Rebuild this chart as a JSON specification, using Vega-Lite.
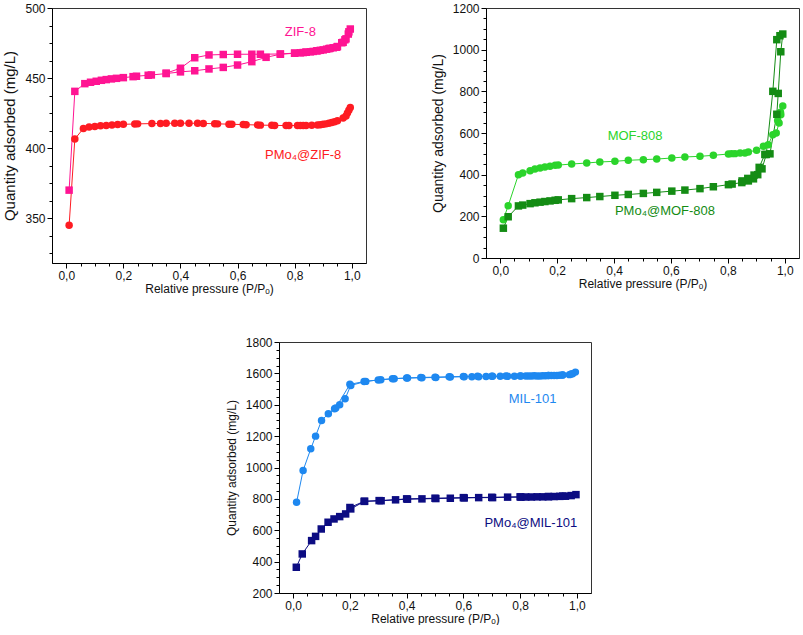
{
"$schema": "https://vega.github.io/schema/vega-lite/v6.json",
"padding": {"left": 2, "top": 1, "right": 0, "bottom": 0},
"background": "white",
"config": {
  "font": "Liberation Sans",
  "view": {"stroke": "#333", "strokeWidth": 1},
  "axis": {"grid": false, "domainColor": "#000", "tickColor": "#000", "labelColor": "#111", "titleColor": "#111", "labelFont": "Liberation Sans", "titleFont": "Liberation Sans", "labelFontSize": 12, "titleFontSize": 12, "titleFontWeight": "normal", "labelFlush": false, "labelOverlap": false}
},
"datasets": {
"pts": [
{"p":1,"s":"ZIF-8","o":1,"x":0.01,"y":370},{"p":1,"s":"ZIF-8","o":2,"x":0.03,"y":440.5},{"p":1,"s":"ZIF-8","o":3,"x":0.065,"y":446},{"p":1,"s":"ZIF-8","o":4,"x":0.085,"y":447},{"p":1,"s":"ZIF-8","o":5,"x":0.105,"y":447.7},{"p":1,"s":"ZIF-8","o":6,"x":0.123,"y":448.4},{"p":1,"s":"ZIF-8","o":7,"x":0.14,"y":448.9},{"p":1,"s":"ZIF-8","o":8,"x":0.158,"y":449.4},{"p":1,"s":"ZIF-8","o":9,"x":0.176,"y":449.8},{"p":1,"s":"ZIF-8","o":10,"x":0.2,"y":450.3},{"p":1,"s":"ZIF-8","o":11,"x":0.234,"y":451},{"p":1,"s":"ZIF-8","o":12,"x":0.246,"y":451.3},{"p":1,"s":"ZIF-8","o":13,"x":0.287,"y":452},{"p":1,"s":"ZIF-8","o":14,"x":0.298,"y":452.2},{"p":1,"s":"ZIF-8","o":15,"x":0.35,"y":453.2},{"p":1,"s":"ZIF-8","o":16,"x":0.4,"y":454.4},{"p":1,"s":"ZIF-8","o":17,"x":0.45,"y":455.2},{"p":1,"s":"ZIF-8","o":18,"x":0.5,"y":456.5},{"p":1,"s":"ZIF-8","o":19,"x":0.55,"y":457.6},{"p":1,"s":"ZIF-8","o":20,"x":0.6,"y":459.3},{"p":1,"s":"ZIF-8","o":21,"x":0.65,"y":461.7},{"p":1,"s":"ZIF-8","o":22,"x":0.7,"y":464.8},{"p":1,"s":"ZIF-8","o":23,"x":0.75,"y":467},{"p":1,"s":"ZIF-8","o":24,"x":0.8,"y":467.7},{"p":1,"s":"ZIF-8","o":25,"x":0.82,"y":468},{"p":1,"s":"ZIF-8","o":26,"x":0.83,"y":468.2},{"p":1,"s":"ZIF-8","o":27,"x":0.84,"y":468.4},{"p":1,"s":"ZIF-8","o":28,"x":0.855,"y":468.7},{"p":1,"s":"ZIF-8","o":29,"x":0.865,"y":469},{"p":1,"s":"ZIF-8","o":30,"x":0.877,"y":469.4},{"p":1,"s":"ZIF-8","o":31,"x":0.89,"y":469.8},{"p":1,"s":"ZIF-8","o":32,"x":0.9,"y":470.1},{"p":1,"s":"ZIF-8","o":33,"x":0.912,"y":470.6},{"p":1,"s":"ZIF-8","o":34,"x":0.924,"y":471.2},{"p":1,"s":"ZIF-8","o":35,"x":0.935,"y":471.6},{"p":1,"s":"ZIF-8","o":36,"x":0.947,"y":472},{"p":1,"s":"ZIF-8","o":37,"x":0.965,"y":475.2},{"p":1,"s":"ZIF-8","o":38,"x":0.976,"y":477.3},{"p":1,"s":"ZIF-8","o":39,"x":0.988,"y":481.4},{"p":1,"s":"ZIF-8","o":40,"x":0.995,"y":485},
{"p":1,"s":"ZIF-8","o":41,"x":0.99,"y":483},{"p":1,"s":"ZIF-8","o":42,"x":0.98,"y":478},{"p":1,"s":"ZIF-8","o":43,"x":0.97,"y":475.5},{"p":1,"s":"ZIF-8","o":44,"x":0.95,"y":472.5},{"p":1,"s":"ZIF-8","o":45,"x":0.92,"y":471},{"p":1,"s":"ZIF-8","o":46,"x":0.88,"y":469.5},{"p":1,"s":"ZIF-8","o":47,"x":0.84,"y":468.5},{"p":1,"s":"ZIF-8","o":48,"x":0.8,"y":467.8},{"p":1,"s":"ZIF-8","o":49,"x":0.75,"y":467.2},{"p":1,"s":"ZIF-8","o":50,"x":0.68,"y":467},{"p":1,"s":"ZIF-8","o":51,"x":0.65,"y":467},{"p":1,"s":"ZIF-8","o":52,"x":0.6,"y":467},{"p":1,"s":"ZIF-8","o":53,"x":0.55,"y":466.8},{"p":1,"s":"ZIF-8","o":54,"x":0.5,"y":466.5},{"p":1,"s":"ZIF-8","o":55,"x":0.45,"y":464.5},{"p":1,"s":"ZIF-8","o":56,"x":0.4,"y":457},{"p":1,"s":"ZIF-8","o":57,"x":0.35,"y":453.5},
{"p":1,"s":"PMo4@ZIF-8","o":1,"x":0.01,"y":345},{"p":1,"s":"PMo4@ZIF-8","o":2,"x":0.03,"y":406.5},{"p":1,"s":"PMo4@ZIF-8","o":3,"x":0.06,"y":414},{"p":1,"s":"PMo4@ZIF-8","o":4,"x":0.08,"y":415},{"p":1,"s":"PMo4@ZIF-8","o":5,"x":0.1,"y":415.5},{"p":1,"s":"PMo4@ZIF-8","o":6,"x":0.12,"y":416},{"p":1,"s":"PMo4@ZIF-8","o":7,"x":0.14,"y":416.2},{"p":1,"s":"PMo4@ZIF-8","o":8,"x":0.16,"y":416.5},{"p":1,"s":"PMo4@ZIF-8","o":9,"x":0.18,"y":416.8},{"p":1,"s":"PMo4@ZIF-8","o":10,"x":0.2,"y":417},{"p":1,"s":"PMo4@ZIF-8","o":11,"x":0.24,"y":417.2},{"p":1,"s":"PMo4@ZIF-8","o":12,"x":0.25,"y":417.3},{"p":1,"s":"PMo4@ZIF-8","o":13,"x":0.3,"y":417.5},{"p":1,"s":"PMo4@ZIF-8","o":14,"x":0.33,"y":417.6},{"p":1,"s":"PMo4@ZIF-8","o":15,"x":0.35,"y":417.7},{"p":1,"s":"PMo4@ZIF-8","o":16,"x":0.38,"y":417.8},{"p":1,"s":"PMo4@ZIF-8","o":17,"x":0.4,"y":417.8},{"p":1,"s":"PMo4@ZIF-8","o":18,"x":0.43,"y":417.8},{"p":1,"s":"PMo4@ZIF-8","o":19,"x":0.46,"y":417.7},{"p":1,"s":"PMo4@ZIF-8","o":20,"x":0.48,"y":417.6},{"p":1,"s":"PMo4@ZIF-8","o":21,"x":0.52,"y":417.4},{"p":1,"s":"PMo4@ZIF-8","o":22,"x":0.53,"y":417.3},{"p":1,"s":"PMo4@ZIF-8","o":23,"x":0.57,"y":417.1},{"p":1,"s":"PMo4@ZIF-8","o":24,"x":0.58,"y":417},{"p":1,"s":"PMo4@ZIF-8","o":25,"x":0.62,"y":416.8},{"p":1,"s":"PMo4@ZIF-8","o":26,"x":0.63,"y":416.7},{"p":1,"s":"PMo4@ZIF-8","o":27,"x":0.67,"y":416.5},{"p":1,"s":"PMo4@ZIF-8","o":28,"x":0.68,"y":416.4},{"p":1,"s":"PMo4@ZIF-8","o":29,"x":0.72,"y":416.3},{"p":1,"s":"PMo4@ZIF-8","o":30,"x":0.73,"y":416.2},{"p":1,"s":"PMo4@ZIF-8","o":31,"x":0.77,"y":416.1},{"p":1,"s":"PMo4@ZIF-8","o":32,"x":0.78,"y":416.1},{"p":1,"s":"PMo4@ZIF-8","o":33,"x":0.81,"y":416.1},{"p":1,"s":"PMo4@ZIF-8","o":34,"x":0.82,"y":416.1},{"p":1,"s":"PMo4@ZIF-8","o":35,"x":0.83,"y":416.1},{"p":1,"s":"PMo4@ZIF-8","o":36,"x":0.84,"y":416.2},{"p":1,"s":"PMo4@ZIF-8","o":37,"x":0.86,"y":416.3},{"p":1,"s":"PMo4@ZIF-8","o":38,"x":0.88,"y":416.5},{"p":1,"s":"PMo4@ZIF-8","o":39,"x":0.89,"y":416.7},{"p":1,"s":"PMo4@ZIF-8","o":40,"x":0.9,"y":417},{"p":1,"s":"PMo4@ZIF-8","o":41,"x":0.91,"y":417.3},{"p":1,"s":"PMo4@ZIF-8","o":42,"x":0.92,"y":417.7},{"p":1,"s":"PMo4@ZIF-8","o":43,"x":0.93,"y":418.2},{"p":1,"s":"PMo4@ZIF-8","o":44,"x":0.94,"y":418.8},{"p":1,"s":"PMo4@ZIF-8","o":45,"x":0.95,"y":419.5},{"p":1,"s":"PMo4@ZIF-8","o":46,"x":0.97,"y":421.5},{"p":1,"s":"PMo4@ZIF-8","o":47,"x":0.98,"y":423},{"p":1,"s":"PMo4@ZIF-8","o":48,"x":0.985,"y":425},{"p":1,"s":"PMo4@ZIF-8","o":49,"x":0.99,"y":427},{"p":1,"s":"PMo4@ZIF-8","o":50,"x":0.995,"y":429},
{"p":2,"s":"MOF-808","o":1,"x":0.011,"y":184},{"p":2,"s":"MOF-808","o":2,"x":0.028,"y":251},{"p":2,"s":"MOF-808","o":3,"x":0.064,"y":400},{"p":2,"s":"MOF-808","o":4,"x":0.079,"y":408},{"p":2,"s":"MOF-808","o":5,"x":0.105,"y":419},{"p":2,"s":"MOF-808","o":6,"x":0.122,"y":427},{"p":2,"s":"MOF-808","o":7,"x":0.14,"y":432},{"p":2,"s":"MOF-808","o":8,"x":0.157,"y":437},{"p":2,"s":"MOF-808","o":9,"x":0.175,"y":440},{"p":2,"s":"MOF-808","o":10,"x":0.193,"y":445},{"p":2,"s":"MOF-808","o":11,"x":0.204,"y":446},{"p":2,"s":"MOF-808","o":12,"x":0.251,"y":451},{"p":2,"s":"MOF-808","o":13,"x":0.304,"y":456},{"p":2,"s":"MOF-808","o":14,"x":0.35,"y":461},{"p":2,"s":"MOF-808","o":15,"x":0.403,"y":464},{"p":2,"s":"MOF-808","o":16,"x":0.45,"y":469},{"p":2,"s":"MOF-808","o":17,"x":0.503,"y":472},{"p":2,"s":"MOF-808","o":18,"x":0.55,"y":475},{"p":2,"s":"MOF-808","o":19,"x":0.603,"y":480},{"p":2,"s":"MOF-808","o":20,"x":0.649,"y":485},{"p":2,"s":"MOF-808","o":21,"x":0.702,"y":488},{"p":2,"s":"MOF-808","o":22,"x":0.749,"y":493},{"p":2,"s":"MOF-808","o":23,"x":0.802,"y":499},{"p":2,"s":"MOF-808","o":24,"x":0.813,"y":501},{"p":2,"s":"MOF-808","o":25,"x":0.825,"y":501},{"p":2,"s":"MOF-808","o":26,"x":0.843,"y":504},{"p":2,"s":"MOF-808","o":27,"x":0.86,"y":504},{"p":2,"s":"MOF-808","o":28,"x":0.872,"y":509},{"p":2,"s":"MOF-808","o":29,"x":0.901,"y":517},{"p":2,"s":"MOF-808","o":30,"x":0.925,"y":536},{"p":2,"s":"MOF-808","o":31,"x":0.942,"y":544},{"p":2,"s":"MOF-808","o":32,"x":0.958,"y":592},{"p":2,"s":"MOF-808","o":33,"x":0.97,"y":600},{"p":2,"s":"MOF-808","o":34,"x":0.98,"y":648},{"p":2,"s":"MOF-808","o":35,"x":0.986,"y":688},{"p":2,"s":"MOF-808","o":36,"x":0.993,"y":730},{"p":2,"s":"MOF-808","o":37,"x":0.985,"y":700},{"p":2,"s":"MOF-808","o":38,"x":0.975,"y":660},
{"p":2,"s":"PMo4@MOF-808","o":1,"x":0.011,"y":143},{"p":2,"s":"PMo4@MOF-808","o":2,"x":0.028,"y":198},{"p":2,"s":"PMo4@MOF-808","o":3,"x":0.064,"y":250},{"p":2,"s":"PMo4@MOF-808","o":4,"x":0.079,"y":254},{"p":2,"s":"PMo4@MOF-808","o":5,"x":0.105,"y":261},{"p":2,"s":"PMo4@MOF-808","o":6,"x":0.122,"y":265},{"p":2,"s":"PMo4@MOF-808","o":7,"x":0.14,"y":268},{"p":2,"s":"PMo4@MOF-808","o":8,"x":0.157,"y":271},{"p":2,"s":"PMo4@MOF-808","o":9,"x":0.175,"y":274},{"p":2,"s":"PMo4@MOF-808","o":10,"x":0.193,"y":277},{"p":2,"s":"PMo4@MOF-808","o":11,"x":0.204,"y":279},{"p":2,"s":"PMo4@MOF-808","o":12,"x":0.251,"y":285},{"p":2,"s":"PMo4@MOF-808","o":13,"x":0.304,"y":290},{"p":2,"s":"PMo4@MOF-808","o":14,"x":0.35,"y":295},{"p":2,"s":"PMo4@MOF-808","o":15,"x":0.403,"y":301},{"p":2,"s":"PMo4@MOF-808","o":16,"x":0.45,"y":305},{"p":2,"s":"PMo4@MOF-808","o":17,"x":0.503,"y":310},{"p":2,"s":"PMo4@MOF-808","o":18,"x":0.55,"y":315},{"p":2,"s":"PMo4@MOF-808","o":19,"x":0.603,"y":321},{"p":2,"s":"PMo4@MOF-808","o":20,"x":0.649,"y":326},{"p":2,"s":"PMo4@MOF-808","o":21,"x":0.702,"y":333},{"p":2,"s":"PMo4@MOF-808","o":22,"x":0.749,"y":342},{"p":2,"s":"PMo4@MOF-808","o":23,"x":0.802,"y":352},{"p":2,"s":"PMo4@MOF-808","o":24,"x":0.815,"y":355},{"p":2,"s":"PMo4@MOF-808","o":25,"x":0.849,"y":362},{"p":2,"s":"PMo4@MOF-808","o":26,"x":0.872,"y":370},{"p":2,"s":"PMo4@MOF-808","o":27,"x":0.89,"y":380},{"p":2,"s":"PMo4@MOF-808","o":28,"x":0.905,"y":400},{"p":2,"s":"PMo4@MOF-808","o":29,"x":0.92,"y":428},{"p":2,"s":"PMo4@MOF-808","o":30,"x":0.935,"y":497},{"p":2,"s":"PMo4@MOF-808","o":31,"x":0.958,"y":800},{"p":2,"s":"PMo4@MOF-808","o":32,"x":0.972,"y":1048},{"p":2,"s":"PMo4@MOF-808","o":33,"x":0.983,"y":1067},{"p":2,"s":"PMo4@MOF-808","o":34,"x":0.993,"y":1075},{"p":2,"s":"PMo4@MOF-808","o":35,"x":0.986,"y":990},{"p":2,"s":"PMo4@MOF-808","o":36,"x":0.977,"y":790},{"p":2,"s":"PMo4@MOF-808","o":37,"x":0.972,"y":690},{"p":2,"s":"PMo4@MOF-808","o":38,"x":0.948,"y":500},{"p":2,"s":"PMo4@MOF-808","o":39,"x":0.93,"y":497},{"p":2,"s":"PMo4@MOF-808","o":40,"x":0.91,"y":435},{"p":2,"s":"PMo4@MOF-808","o":41,"x":0.892,"y":398},{"p":2,"s":"PMo4@MOF-808","o":42,"x":0.87,"y":382},{"p":2,"s":"PMo4@MOF-808","o":43,"x":0.85,"y":370},
{"p":3,"s":"MIL-101","o":1,"x":0.012,"y":778},{"p":3,"s":"MIL-101","o":2,"x":0.035,"y":981},{"p":3,"s":"MIL-101","o":3,"x":0.062,"y":1119},{"p":3,"s":"MIL-101","o":4,"x":0.079,"y":1200},{"p":3,"s":"MIL-101","o":5,"x":0.1,"y":1300},{"p":3,"s":"MIL-101","o":6,"x":0.124,"y":1342},{"p":3,"s":"MIL-101","o":7,"x":0.146,"y":1374},{"p":3,"s":"MIL-101","o":8,"x":0.164,"y":1400},{"p":3,"s":"MIL-101","o":9,"x":0.183,"y":1438},{"p":3,"s":"MIL-101","o":10,"x":0.203,"y":1523},{"p":3,"s":"MIL-101","o":11,"x":0.256,"y":1549},{"p":3,"s":"MIL-101","o":12,"x":0.309,"y":1560},{"p":3,"s":"MIL-101","o":13,"x":0.356,"y":1566},{"p":3,"s":"MIL-101","o":14,"x":0.403,"y":1570},{"p":3,"s":"MIL-101","o":15,"x":0.454,"y":1572},{"p":3,"s":"MIL-101","o":16,"x":0.503,"y":1574},{"p":3,"s":"MIL-101","o":17,"x":0.554,"y":1577},{"p":3,"s":"MIL-101","o":18,"x":0.603,"y":1579},{"p":3,"s":"MIL-101","o":19,"x":0.63,"y":1579},{"p":3,"s":"MIL-101","o":20,"x":0.654,"y":1579},{"p":3,"s":"MIL-101","o":21,"x":0.68,"y":1580},{"p":3,"s":"MIL-101","o":22,"x":0.703,"y":1581},{"p":3,"s":"MIL-101","o":23,"x":0.73,"y":1581},{"p":3,"s":"MIL-101","o":24,"x":0.756,"y":1581},{"p":3,"s":"MIL-101","o":25,"x":0.78,"y":1582},{"p":3,"s":"MIL-101","o":26,"x":0.803,"y":1583},{"p":3,"s":"MIL-101","o":27,"x":0.82,"y":1583},{"p":3,"s":"MIL-101","o":28,"x":0.83,"y":1583},{"p":3,"s":"MIL-101","o":29,"x":0.84,"y":1583},{"p":3,"s":"MIL-101","o":30,"x":0.86,"y":1584},{"p":3,"s":"MIL-101","o":31,"x":0.87,"y":1584},{"p":3,"s":"MIL-101","o":32,"x":0.88,"y":1585},{"p":3,"s":"MIL-101","o":33,"x":0.89,"y":1585},{"p":3,"s":"MIL-101","o":34,"x":0.9,"y":1586},{"p":3,"s":"MIL-101","o":35,"x":0.91,"y":1586},{"p":3,"s":"MIL-101","o":36,"x":0.92,"y":1587},{"p":3,"s":"MIL-101","o":37,"x":0.93,"y":1587},{"p":3,"s":"MIL-101","o":38,"x":0.94,"y":1588},{"p":3,"s":"MIL-101","o":39,"x":0.95,"y":1589},{"p":3,"s":"MIL-101","o":40,"x":0.974,"y":1592},{"p":3,"s":"MIL-101","o":41,"x":0.985,"y":1598},{"p":3,"s":"MIL-101","o":42,"x":0.995,"y":1608},{"p":3,"s":"MIL-101","o":43,"x":0.98,"y":1596},{"p":3,"s":"MIL-101","o":44,"x":0.95,"y":1590},{"p":3,"s":"MIL-101","o":45,"x":0.9,"y":1587},{"p":3,"s":"MIL-101","o":46,"x":0.85,"y":1585},{"p":3,"s":"MIL-101","o":47,"x":0.8,"y":1584},{"p":3,"s":"MIL-101","o":48,"x":0.75,"y":1583},{"p":3,"s":"MIL-101","o":49,"x":0.7,"y":1582},{"p":3,"s":"MIL-101","o":50,"x":0.65,"y":1581},{"p":3,"s":"MIL-101","o":51,"x":0.6,"y":1580},{"p":3,"s":"MIL-101","o":52,"x":0.55,"y":1578},{"p":3,"s":"MIL-101","o":53,"x":0.5,"y":1576},{"p":3,"s":"MIL-101","o":54,"x":0.45,"y":1574},{"p":3,"s":"MIL-101","o":55,"x":0.4,"y":1571},{"p":3,"s":"MIL-101","o":56,"x":0.35,"y":1566},{"p":3,"s":"MIL-101","o":57,"x":0.3,"y":1558},{"p":3,"s":"MIL-101","o":58,"x":0.25,"y":1548},{"p":3,"s":"MIL-101","o":59,"x":0.2,"y":1530},{"p":3,"s":"MIL-101","o":60,"x":0.15,"y":1380},
{"p":3,"s":"PMo4@MIL-101","o":1,"x":0.011,"y":364},{"p":3,"s":"PMo4@MIL-101","o":2,"x":0.032,"y":449},{"p":3,"s":"PMo4@MIL-101","o":3,"x":0.065,"y":534},{"p":3,"s":"PMo4@MIL-101","o":4,"x":0.079,"y":561},{"p":3,"s":"PMo4@MIL-101","o":5,"x":0.099,"y":608},{"p":3,"s":"PMo4@MIL-101","o":6,"x":0.123,"y":651},{"p":3,"s":"PMo4@MIL-101","o":7,"x":0.144,"y":672},{"p":3,"s":"PMo4@MIL-101","o":8,"x":0.164,"y":687},{"p":3,"s":"PMo4@MIL-101","o":9,"x":0.185,"y":704},{"p":3,"s":"PMo4@MIL-101","o":10,"x":0.203,"y":736},{"p":3,"s":"PMo4@MIL-101","o":11,"x":0.252,"y":785},{"p":3,"s":"PMo4@MIL-101","o":12,"x":0.303,"y":789},{"p":3,"s":"PMo4@MIL-101","o":13,"x":0.361,"y":794},{"p":3,"s":"PMo4@MIL-101","o":14,"x":0.403,"y":798},{"p":3,"s":"PMo4@MIL-101","o":15,"x":0.454,"y":800},{"p":3,"s":"PMo4@MIL-101","o":16,"x":0.503,"y":802},{"p":3,"s":"PMo4@MIL-101","o":17,"x":0.554,"y":804},{"p":3,"s":"PMo4@MIL-101","o":18,"x":0.603,"y":806},{"p":3,"s":"PMo4@MIL-101","o":19,"x":0.654,"y":808},{"p":3,"s":"PMo4@MIL-101","o":20,"x":0.703,"y":808},{"p":3,"s":"PMo4@MIL-101","o":21,"x":0.756,"y":811},{"p":3,"s":"PMo4@MIL-101","o":22,"x":0.803,"y":811},{"p":3,"s":"PMo4@MIL-101","o":23,"x":0.82,"y":812},{"p":3,"s":"PMo4@MIL-101","o":24,"x":0.84,"y":812},{"p":3,"s":"PMo4@MIL-101","o":25,"x":0.86,"y":813},{"p":3,"s":"PMo4@MIL-101","o":26,"x":0.88,"y":813},{"p":3,"s":"PMo4@MIL-101","o":27,"x":0.9,"y":814},{"p":3,"s":"PMo4@MIL-101","o":28,"x":0.92,"y":815},{"p":3,"s":"PMo4@MIL-101","o":29,"x":0.94,"y":816},{"p":3,"s":"PMo4@MIL-101","o":30,"x":0.96,"y":817},{"p":3,"s":"PMo4@MIL-101","o":31,"x":0.98,"y":821},{"p":3,"s":"PMo4@MIL-101","o":32,"x":0.997,"y":827},{"p":3,"s":"PMo4@MIL-101","o":33,"x":0.95,"y":818},{"p":3,"s":"PMo4@MIL-101","o":34,"x":0.9,"y":815},{"p":3,"s":"PMo4@MIL-101","o":35,"x":0.8,"y":813},{"p":3,"s":"PMo4@MIL-101","o":36,"x":0.7,"y":810},{"p":3,"s":"PMo4@MIL-101","o":37,"x":0.6,"y":808},{"p":3,"s":"PMo4@MIL-101","o":38,"x":0.5,"y":804},{"p":3,"s":"PMo4@MIL-101","o":39,"x":0.4,"y":800},{"p":3,"s":"PMo4@MIL-101","o":40,"x":0.31,"y":788},{"p":3,"s":"PMo4@MIL-101","o":41,"x":0.25,"y":784},{"p":3,"s":"PMo4@MIL-101","o":42,"x":0.2,"y":745}
],
"lbl": [
{"p":1,"s":"ZIF-8","t":"ZIF-8","x":0.82,"y":482.6},
{"p":1,"s":"PMo4@ZIF-8","t":"PMo₄@ZIF-8","x":0.83,"y":394.9},
{"p":2,"s":"MOF-808","t":"MOF-808","x":0.474,"y":584},
{"p":2,"s":"PMo4@MOF-808","t":"PMo₄@MOF-808","x":0.579,"y":224},
{"p":3,"s":"MIL-101","t":"MIL-101","x":0.844,"y":1438},
{"p":3,"s":"PMo4@MIL-101","t":"PMo₄@MIL-101","x":0.838,"y":647}
]
},
"spacing": 40,
"vconcat": [
{"hconcat": [
 {"width": 314, "height": 255,
  "layer": [
   {"data": {"name": "pts"}, "transform": [{"filter": "datum.p == 1"}],
    "mark": {"type": "line", "strokeWidth": 1},
    "encoding": {
     "x": {"field": "x", "type": "quantitative", "scale": {"domain": [-0.05, 1.05], "nice": false, "zero": false}, "axis": {"orient": "bottom", "values": [0.05,0.1,0.15,0.25,0.3,0.35,0.45,0.5,0.55,0.65,0.7,0.75,0.85,0.9,0.95], "tickSize": 3, "labels": false, "title": null, "domain": false}},
     "y": {"field": "y", "type": "quantitative", "scale": {"domain": [318, 500], "nice": false, "zero": false}, "axis": {"orient": "left", "values": [325,337.5,362.5,375,387.5,412.5,425,437.5,462.5,475,487.5], "tickSize": 3, "labels": false, "title": null, "domain": false}},
     "color": {"field": "s", "type": "nominal", "scale": {"domain": ["ZIF-8","PMo4@ZIF-8","MOF-808","PMo4@MOF-808","MIL-101","PMo4@MIL-101"], "range": ["#ff1493","#fe1b22","#2bd42b","#148c14","#1e88f0","#0c0c82"]}, "legend": null},
     "order": {"field": "o", "type": "quantitative"}
    }},
   {"data": {"name": "pts"}, "transform": [{"filter": "datum.p == 1"}],
    "mark": {"type": "point", "filled": true, "opacity": 1, "size": 56},
    "encoding": {
     "x": {"field": "x", "type": "quantitative", "axis": {"orient": "bottom", "values": [0,0.2,0.4,0.6,0.8,1], "tickSize": 5, "labelPadding": 2, "labelExpr": "replace(format(datum.value, '.1f'), '.', ',')", "title": "Relative pressure (P/Pₒ)", "titlePadding": 2}},
     "y": {"field": "y", "type": "quantitative", "axis": {"orient": "left", "values": [350,400,450,500], "format": "d", "tickSize": 5, "labelPadding": 2, "title": "Quantity adsorbed (mg/L)", "titlePadding": 7, "titleFontSize": 15}},
     "color": {"field": "s", "type": "nominal", "legend": null},
     "shape": {"field": "s", "type": "nominal", "scale": {"domain": ["ZIF-8","PMo4@ZIF-8","MOF-808","PMo4@MOF-808","MIL-101","PMo4@MIL-101"], "range": ["square","circle","circle","square","circle","square"]}, "legend": null}
    }},
   {"data": {"name": "lbl"}, "transform": [{"filter": "datum.p == 1"}],
    "mark": {"type": "text", "fontSize": 13, "font": "Liberation Sans", "align": "center", "baseline": "middle"},
    "encoding": {
     "x": {"field": "x", "type": "quantitative", "axis": null},
     "y": {"field": "y", "type": "quantitative", "axis": null},
     "text": {"field": "t"},
     "color": {"field": "s", "type": "nominal", "legend": null}
    }}
  ],
  "resolve": {"axis": {"x": "independent", "y": "independent"}}
 },
 {"width": 313, "height": 250,
  "layer": [
   {"data": {"name": "pts"}, "transform": [{"filter": "datum.p == 2"}],
    "mark": {"type": "line", "strokeWidth": 1},
    "encoding": {
     "x": {"field": "x", "type": "quantitative", "scale": {"domain": [-0.05, 1.05], "nice": false, "zero": false}, "axis": {"orient": "bottom", "values": [0.05,0.1,0.15,0.25,0.3,0.35,0.45,0.5,0.55,0.65,0.7,0.75,0.85,0.9,0.95], "tickSize": 3, "labels": false, "title": null, "domain": false}},
     "y": {"field": "y", "type": "quantitative", "scale": {"domain": [0, 1200], "nice": false, "zero": false}, "axis": {"orient": "left", "values": [50,100,150,250,300,350,450,500,550,650,700,750,850,900,950,1050,1100,1150], "tickSize": 3, "labels": false, "title": null, "domain": false}},
     "color": {"field": "s", "type": "nominal", "scale": {"domain": ["ZIF-8","PMo4@ZIF-8","MOF-808","PMo4@MOF-808","MIL-101","PMo4@MIL-101"], "range": ["#ff1493","#fe1b22","#2bd42b","#148c14","#1e88f0","#0c0c82"]}, "legend": null},
     "order": {"field": "o", "type": "quantitative"}
    }},
   {"data": {"name": "pts"}, "transform": [{"filter": "datum.p == 2"}],
    "mark": {"type": "point", "filled": true, "opacity": 1, "size": 56},
    "encoding": {
     "x": {"field": "x", "type": "quantitative", "axis": {"orient": "bottom", "values": [0,0.2,0.4,0.6,0.8,1], "tickSize": 5, "labelPadding": 2, "labelExpr": "replace(format(datum.value, '.1f'), '.', ',')", "title": "Relative pressure (P/Pₒ)", "titlePadding": 2}},
     "y": {"field": "y", "type": "quantitative", "axis": {"orient": "left", "values": [0,200,400,600,800,1000,1200], "format": "d", "tickSize": 5, "labelPadding": 2, "title": "Quantity adsorbed (mg/L)", "titlePadding": 7, "titleFontSize": 14}},
     "color": {"field": "s", "type": "nominal", "legend": null},
     "shape": {"field": "s", "type": "nominal", "scale": {"domain": ["ZIF-8","PMo4@ZIF-8","MOF-808","PMo4@MOF-808","MIL-101","PMo4@MIL-101"], "range": ["square","circle","circle","square","circle","square"]}, "legend": null}
    }},
   {"data": {"name": "lbl"}, "transform": [{"filter": "datum.p == 2"}],
    "mark": {"type": "text", "fontSize": 13, "font": "Liberation Sans", "align": "center", "baseline": "middle"},
    "encoding": {
     "x": {"field": "x", "type": "quantitative", "axis": null},
     "y": {"field": "y", "type": "quantitative", "axis": null},
     "text": {"field": "t"},
     "color": {"field": "s", "type": "nominal", "legend": null}
    }}
  ],
  "resolve": {"axis": {"x": "independent", "y": "independent"}}
 }
], "spacing": 63},
{"hconcat": [
 {"width": 148, "height": 10, "view": {"stroke": null}, "data": {"values": []}, "mark": "point"},
 {"width": 312, "height": 251,
  "layer": [
   {"data": {"name": "pts"}, "transform": [{"filter": "datum.p == 3"}],
    "mark": {"type": "line", "strokeWidth": 1},
    "encoding": {
     "x": {"field": "x", "type": "quantitative", "scale": {"domain": [-0.05, 1.05], "nice": false, "zero": false}, "axis": {"orient": "bottom", "values": [0.05,0.1,0.15,0.25,0.3,0.35,0.45,0.5,0.55,0.65,0.7,0.75,0.85,0.9,0.95], "tickSize": 3, "labels": false, "title": null, "domain": false}},
     "y": {"field": "y", "type": "quantitative", "scale": {"domain": [200, 1800], "nice": false, "zero": false}, "axis": {"orient": "left", "values": [250,300,350,450,500,550,650,700,750,850,900,950,1050,1100,1150,1250,1300,1350,1450,1500,1550,1650,1700,1750], "tickSize": 3, "labels": false, "title": null, "domain": false}},
     "color": {"field": "s", "type": "nominal", "scale": {"domain": ["ZIF-8","PMo4@ZIF-8","MOF-808","PMo4@MOF-808","MIL-101","PMo4@MIL-101"], "range": ["#ff1493","#fe1b22","#2bd42b","#148c14","#1e88f0","#0c0c82"]}, "legend": null},
     "order": {"field": "o", "type": "quantitative"}
    }},
   {"data": {"name": "pts"}, "transform": [{"filter": "datum.p == 3"}],
    "mark": {"type": "point", "filled": true, "opacity": 1, "size": 56},
    "encoding": {
     "x": {"field": "x", "type": "quantitative", "axis": {"orient": "bottom", "values": [0,0.2,0.4,0.6,0.8,1], "tickSize": 5, "labelPadding": 2, "labelExpr": "replace(format(datum.value, '.1f'), '.', ',')", "title": "Relative pressure (P/Pₒ)", "titlePadding": 2}},
     "y": {"field": "y", "type": "quantitative", "axis": {"orient": "left", "values": [200,400,600,800,1000,1200,1400,1600,1800], "format": "d", "tickSize": 5, "labelPadding": 2, "title": "Quantity adsorbed (mg/L)", "titlePadding": 7}},
     "color": {"field": "s", "type": "nominal", "legend": null},
     "shape": {"field": "s", "type": "nominal", "scale": {"domain": ["ZIF-8","PMo4@ZIF-8","MOF-808","PMo4@MOF-808","MIL-101","PMo4@MIL-101"], "range": ["square","circle","circle","square","circle","square"]}, "legend": null}
    }},
   {"data": {"name": "lbl"}, "transform": [{"filter": "datum.p == 3"}],
    "mark": {"type": "text", "fontSize": 13, "font": "Liberation Sans", "align": "center", "baseline": "middle"},
    "encoding": {
     "x": {"field": "x", "type": "quantitative", "axis": null},
     "y": {"field": "y", "type": "quantitative", "axis": null},
     "text": {"field": "t"},
     "color": {"field": "s", "type": "nominal", "legend": null}
    }}
  ],
  "resolve": {"axis": {"x": "independent", "y": "independent"}}
 }
], "spacing": 24}
]
}
